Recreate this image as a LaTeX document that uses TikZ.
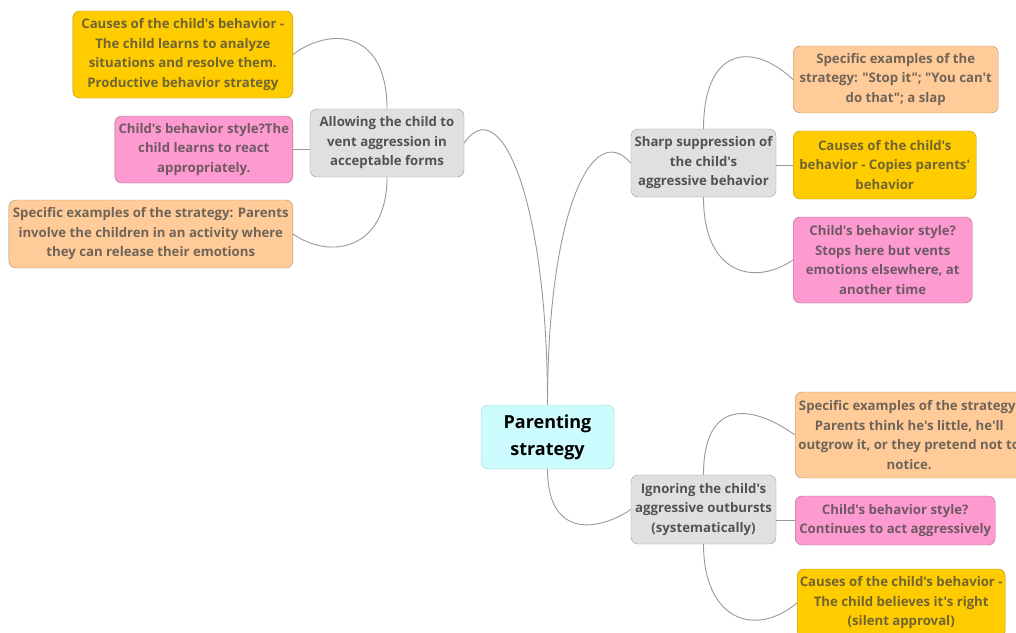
\documentclass[tikz,border=0pt]{standalone}
\usepackage{fontspec}
\setmainfont{Open Sans}[Ligatures=TeXOff]
\usepackage{xcolor}
\usetikzlibrary{positioning}

\definecolor{topicfill}{HTML}{E0E0E0}
\definecolor{rootfill}{HTML}{CCFCFE}
\definecolor{causefill}{HTML}{FFCC00}
\definecolor{behavfill}{HTML}{FD9BD0}
\definecolor{examplefill}{HTML}{FFCC99}

\begin{document}
\begin{tikzpicture}[
  x=1pt, y=1pt,
  box/.style={rectangle, draw=gray!80, rounded corners=7pt, align=center,
              inner sep=2pt, font=\bfseries\fontsize{13.2}{19.5}\selectfont},
  topic/.style={box, fill=topicfill, text=black!68},
  cause/.style={box, fill=causefill, draw=causefill!70!black, text=black!60!causefill!60!gray},
  behav/.style={box, fill=behavfill, draw=behavfill!65!black, text=black!60!behavfill!60!gray},
  example/.style={box, fill=examplefill, draw=examplefill!70!black, text=black!60!examplefill!60!gray},
  link/.style={draw=gray!80, line width=0.9pt},
]
  \useasboundingbox (0,0) rectangle (1016,-632);

  % Root
  \node[box, fill=rootfill, draw=rootfill!60!gray, text=black,
        font=\bfseries\fontsize{18}{27}\selectfont,
        minimum width=133pt, minimum height=64pt] (root) at (547.5,-437) {Parenting\\strategy};

  % Allowing
  \node[topic, minimum width=154pt, minimum height=68pt] (allow) at (387,-143)
    {Allowing the child to\\vent aggression in\\acceptable forms};
  \node[cause, minimum width=220pt, minimum height=87pt, anchor=east] (allowcause) at (293,-54.5)
    {Causes of the child's behavior -\\The child learns to analyze\\situations and resolve them.\\Productive behavior strategy};
  \node[behav, minimum width=178pt, minimum height=67pt, anchor=east] (allowbehav) at (293,-149.5)
    {Child's behavior style?The\\child learns to react\\appropriately.};
  \node[example, minimum width=284pt, minimum height=68pt, anchor=east] (allowexample) at (293,-234)
    {Specific examples of the strategy: Parents\\involve the children in an activity where\\they can release their emotions};

  % Sharp suppression
  \node[topic, minimum width=145pt, minimum height=68pt] (sharp) at (703.5,-163)
    {Sharp suppression of\\the child's\\aggressive behavior};
  \node[example, minimum width=205pt, minimum height=67pt, anchor=west] (sharpexample) at (793,-79.5)
    {Specific examples of the\\strategy: "Stop it"; "You can't\\do that"; a slap};
  \node[cause, minimum width=183pt, minimum height=68pt, anchor=west] (sharpcause) at (793,-165)
    {Causes of the child's\\behavior - Copies parents'\\behavior};
  \node[behav, minimum width=179pt, minimum height=86pt, anchor=west] (sharpbehav) at (793,-260)
    {Child's behavior style?\\Stops here but vents\\emotions elsewhere, at\\another time};

  % Ignoring
  \node[topic, minimum width=145pt, minimum height=69pt] (ignore) at (703.5,-509.5)
    {Ignoring the child's\\aggressive outbursts\\(systematically)};
  \node[example, minimum width=228pt, minimum height=86pt, anchor=west] (ignoreexample) at (795,-435)
    {Specific examples of the strategy:\\Parents think he's little, he'll\\outgrow it, or they pretend not to\\notice.};
  \node[behav, minimum width=200pt, minimum height=49pt, anchor=west] (ignorebehav) at (795,-520.5)
    {Child's behavior style?\\Continues to act aggressively};
  \node[cause, minimum width=208pt, minimum height=68pt, anchor=west] (ignorecause) at (797,-603)
    {Causes of the child's behavior -\\The child believes it's right\\(silent approval)};

  % Links
  \draw[link] (root.north) .. controls +(0,205) and +(36,53) .. (allow.east);
  \draw[link] (root.north) .. controls +(0,190) and +(-39,45) .. (sharp.west);
  \draw[link] (root.south) .. controls +(0,-71) and +(-31,-21) .. (ignore.west);

  \draw[link] (allow.north) .. controls +(0,79) and +(37,28) .. (allowcause.east);
  \draw[link] (allowbehav.east) -- (allowbehav.east -| allow.west);
  \draw[link] (allow.south) .. controls +(0,-73) and +(37,-26) .. (allowexample.east);

  \draw[link] (sharp.north) .. controls +(0,79) and +(-43,40) .. (sharpexample.west);
  \draw[link] (sharpcause.west) -- (sharpcause.west -| sharp.east);
  \draw[link] (sharp.south) .. controls +(0,-78) and +(-38,-26) .. (sharpbehav.west);

  \draw[link] (ignore.north) .. controls +(0,75) and +(-45,32) .. (ignoreexample.west);
  \draw[link] (ignorebehav.west) -- (ignorebehav.west -| ignore.east);
  \draw[link] (ignore.south) .. controls +(0,-76) and +(-42,-35) .. (ignorecause.west);
\end{tikzpicture}
\end{document}
